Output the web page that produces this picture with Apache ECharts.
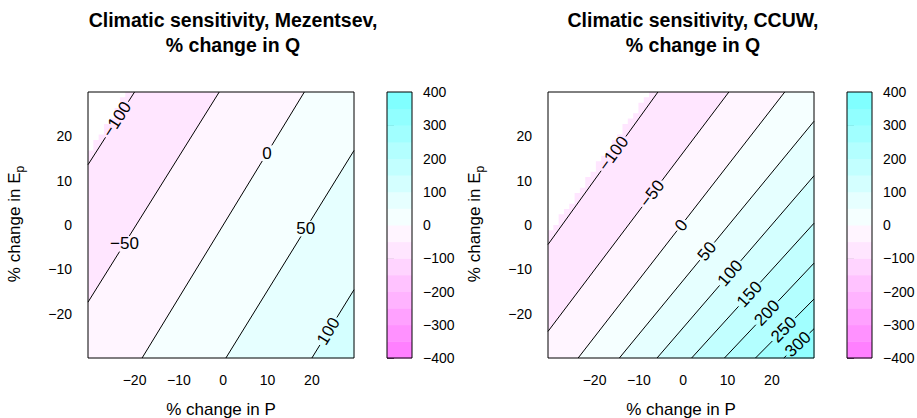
<!DOCTYPE html>
<html><head><meta charset="utf-8">
<script src="https://cdn.jsdelivr.net/npm/echarts@6/dist/echarts.min.js"></script>
<style>html,body{margin:0;padding:0;background:#fff}#c{width:917px;height:418px}</style>
</head><body><div id="c"></div>
<script>
// ================= DATA =================
const panelTitles = ['Climatic sensitivity, Mezentsev,', 'Climatic sensitivity, CCUW,'];
const subTitle = '% change in Q';
const xTitle = '% change in P';
const xTickValues = [-20, -10, 0, 10, 20];
const yTickValues = [-20, -10, 0, 10, 20];
const xRange = [-30.5, 29.5];
const yRange = [-30, 30];
const colorBreaks = [-400,-350,-300,-250,-200,-150,-100,-50,0,50,100,150,200,250,300,350,400];
const binColors = ['#FF80FF','#FF91FF','#FFA1FF','#FFB3FF','#FFC2FF','#FFD4FF','#FFE6FF','#FFF5FF',
                   '#F5FFFF','#E6FFFF','#D4FFFF','#C2FFFF','#B3FFFF','#A1FFFF','#91FFFF','#80FFFF'];
const colorTicks = [-400,-300,-200,-100,0,100,200,300,400];

// Mezentsev: contour levels, line end points (data coords), label anchors
const mezLevels = [-100, -50, 0, 50, 100];
const mezStart  = [[-30.5, 13.6], [-30.5, -17.4], [-18.3, -30], [0.6, -30], [20.0, -30]];
const mezEnd    = [[-20.0, 30], [-0.9, 30], [18.3, 30], [29.5, 16.8], [29.5, -14.6]];
const mezLabelAt = [[-24.6, 24.2], [-22.5, -4.1], [9.4, 16.5], [18.1, -0.5], [22.5, -23.2]];
const mezNaStart = [-30.5, 16.0];
const mezNaEnd   = [-21.6, 30];

// CCUW
const ccuwLevels = [-100, -50, 0, 50, 100, 150, 200, 250, 300];
const ccuwStart  = [[-30.5, -4.4], [-30.5, -24.0], [-23.7, -30], [-14.4, -30], [-5.9, -30], [1.9, -30], [9.3, -30], [16.3, -30], [22.7, -30]];
const ccuwEnd    = [[-5.7, 30], [10.3, 30], [22.9, 30], [29.5, 23.4], [29.5, 11.1], [29.5, 0.4], [29.5, -8.6], [29.5, -16.7], [29.5, -23.4]];
const ccuwLabelAt = [[-16.0, 16.3], [-7.5, 7.4], [-1.2, 0.5], [4.6, -5.3], [9.7, -10.1], [14.0, -14.8], [18.1, -19.1], [21.8, -22.7], [24.9, -25.9]];
const ccuwNaStart = [-30.5, -2.2];
const ccuwNaEnd   = [-7.6, 30];

// ================= PRESENTATION =================
const FONT = '"Liberation Sans", Arial, Helvetica, sans-serif';
const mezFlat  = [false, true, true, true, false];
const ccuwFlat = [false, false, false, false, false, false, false, false, false];
const NA_CELL = 1.2;
const LABEL_SIZE = 17;

const mctx = document.createElement('canvas').getContext('2d');
function textW(t, size, weight) { mctx.font = (weight || 'normal') + ' ' + size + 'px ' + FONT; return mctx.measureText(t).width; }
const fmt = v => (v < 0 ? '\u2212' + Math.abs(v) : String(v));
const binColorFor = level => binColors[colorBreaks.indexOf(level)];

function clipHalf(poly, a, b, ref) {
  const side = p => (b[0]-a[0])*(p[1]-a[1]) - (b[1]-a[1])*(p[0]-a[0]);
  const sr = Math.sign(side(ref));
  const out = [];
  for (let i = 0; i < poly.length; i++) {
    const p = poly[i], q = poly[(i+1) % poly.length];
    const sp = side(p)*sr, sq = side(q)*sr;
    if (sp >= 0) out.push(p);
    if ((sp >= 0) !== (sq >= 0)) { const t = sp/(sp-sq); out.push([p[0]+t*(q[0]-p[0]), p[1]+t*(q[1]-p[1])]); }
  }
  return out;
}

function naPolygon(P, s, e, cell) {
  const pts = [[xRange[0], yRange[1]]];
  const slope = (e[1]-s[1])/(e[0]-s[0]);
  let x0 = xRange[0];
  while (x0 < xRange[1]) {
    const xc = x0 + cell/2;
    const yb = s[1] + slope*(xc - s[0]);
    let yq = yRange[1] - Math.round((yRange[1]-yb)/cell)*cell;
    if (yq >= yRange[1]) break;
    yq = Math.max(yq, yRange[0]);
    pts.push([x0, yq]); pts.push([Math.min(x0+cell, xRange[1]), yq]);
    x0 += cell;
  }
  pts.push([Math.min(x0, xRange[1]), yRange[1]]);
  return pts.map(P);
}

function fieldSeries(idx, levels, starts, ends, labelAt, flat, naS, naE) {
  return {
    type: 'custom', coordinateSystem: 'cartesian2d', xAxisIndex: 2*idx, yAxisIndex: 2*idx,
    data: [[0, 0]], silent: true, clip: false, z: 2,
    renderItem: (params, api) => {
      const P = p => api.coord(p);
      const rect = [P([xRange[0], yRange[1]]), P([xRange[1], yRange[1]]), P([xRange[1], yRange[0]]), P([xRange[0], yRange[0]])];
      const hi = P([xRange[1], yRange[0]]);
      const ch = [];
      ch.push({type: 'polygon', shape: {points: rect}, style: {fill: binColorFor(levels[0])}});
      for (let k = 1; k < levels.length; k++) {
        const poly = clipHalf(rect, P(starts[k]), P(ends[k]), hi);
        ch.push({type: 'polygon', shape: {points: poly}, style: {fill: binColorFor(levels[k]), stroke: binColorFor(levels[k]), lineWidth: 0.5}});
      }
      ch.push({type: 'polygon', shape: {points: naPolygon(P, naS, naE, NA_CELL)}, style: {fill: '#FFFFFF'}});
      for (let k = 0; k < levels.length; k++) {
        const a = P(starts[k]), b = P(ends[k]), L = P(labelAt[k]);
        const dx = b[0]-a[0], dy = b[1]-a[1], len = Math.hypot(dx, dy);
        const ux = dx/len, uy = dy/len;
        const t = ((L[0]-a[0])*ux + (L[1]-a[1])*uy);
        const C = [a[0]+t*ux, a[1]+t*uy];
        const txt = fmt(levels[k]);
        const w = textW(txt, LABEL_SIZE);
        const ang = Math.atan2(-dy, dx);
        let g;
        if (flat[k]) {
          const h = LABEL_SIZE*0.8;
          g = Math.min((w/2+1)/Math.abs(Math.cos(ang)), (h/2+1)/Math.abs(Math.sin(ang)));
        } else g = w/2 + 2;
        ch.push({type: 'line', shape: {x1: a[0], y1: a[1], x2: C[0]-g*ux, y2: C[1]-g*uy}, style: {stroke: '#000', lineWidth: 1}});
        ch.push({type: 'line', shape: {x1: C[0]+g*ux, y1: C[1]+g*uy, x2: b[0], y2: b[1]}, style: {stroke: '#000', lineWidth: 1}});
        ch.push({type: 'text', x: C[0], y: C[1], rotation: flat[k] ? 0 : ang,
          style: {text: txt, fontSize: LABEL_SIZE, fontFamily: FONT, fill: '#000', align: 'center', verticalAlign: 'middle'}});
      }
      ch.push({type: 'polygon', shape: {points: rect}, style: {fill: 'none', stroke: '#000', lineWidth: 1}});
      return {type: 'group', children: ch};
    }
  };
}

function colorbarSeries(idx) {
  return {
    type: 'custom', coordinateSystem: 'cartesian2d', xAxisIndex: 4+idx, yAxisIndex: 4+idx,
    data: [[0, 0]], silent: true, clip: false,
    renderItem: (params, api) => {
      const ch = [];
      for (let i = 0; i < binColors.length; i++) {
        const p0 = api.coord([0, colorBreaks[i+1]]), p1 = api.coord([1, colorBreaks[i]]);
        ch.push({type: 'rect', shape: {x: p0[0], y: p0[1], width: p1[0]-p0[0], height: p1[1]-p0[1]+0.5}, style: {fill: binColors[i]}});
      }
      const q0 = api.coord([0, colorBreaks[colorBreaks.length-1]]), q1 = api.coord([1, colorBreaks[0]]);
      ch.push({type: 'rect', shape: {x: q0[0], y: q0[1], width: q1[0]-q0[0], height: q1[1]-q0[1]}, style: {fill: 'none', stroke: '#000', lineWidth: 1}});
      return {type: 'group', children: ch};
    }
  };
}

const layouts = [
  {grid: {left: 88, top: 92, width: 266, height: 266}, cb: {left: 387, top: 92, width: 25, height: 266}, titleX: 233, yTitleX: 16},
  {grid: {left: 548, top: 92, width: 266, height: 266}, cb: {left: 847, top: 92, width: 25, height: 266}, titleX: 693, yTitleX: 476}
];

const grids = [], xAxes = [], yAxes = [], graphics = [];
const tickStyle = {color: '#000', width: 1};
layouts.forEach(L => { grids.push(Object.assign({outerBoundsMode: 'none', containLabel: false}, L.grid)); });
layouts.forEach(L => { grids.push(Object.assign({outerBoundsMode: 'none', containLabel: false}, L.cb)); });

layouts.forEach((L, i) => {
  const common = {gridIndex: i, type: 'value', min: xRange[0], max: xRange[1], splitLine: {show: false}, axisLine: {show: false}};
  xAxes.push(Object.assign({}, common, {position: 'bottom',
    axisTick: {show: true, length: 8, customValues: xTickValues, lineStyle: tickStyle},
    axisLabel: {customValues: xTickValues, formatter: fmt, fontSize: 14, fontFamily: FONT, color: '#000', margin: 15}}));
  xAxes.push(Object.assign({}, common, {position: 'top',
    axisTick: {show: true, length: 8, customValues: xTickValues, lineStyle: tickStyle},
    axisLabel: {show: false}}));
  const cy = {gridIndex: i, type: 'value', min: yRange[0], max: yRange[1], splitLine: {show: false}, axisLine: {show: false}};
  yAxes.push(Object.assign({}, cy, {position: 'left',
    axisTick: {show: true, length: 8, customValues: yTickValues, lineStyle: tickStyle},
    axisLabel: {customValues: yTickValues, formatter: fmt, fontSize: 14, fontFamily: FONT, color: '#000', margin: 16}}));
  yAxes.push(Object.assign({}, cy, {position: 'right',
    axisTick: {show: true, length: 8, customValues: yTickValues, lineStyle: tickStyle},
    axisLabel: {show: false}}));
});
layouts.forEach((L, i) => {
  xAxes.push({gridIndex: 2+i, type: 'value', min: 0, max: 1, show: false});
  yAxes.push({gridIndex: 2+i, type: 'value', min: colorTicks[0], max: colorTicks[colorTicks.length-1], interval: colorTicks[1]-colorTicks[0], position: 'right',
    splitLine: {show: false}, axisLine: {show: false},
    axisTick: {show: true, length: 7, lineStyle: tickStyle},
    axisLabel: {formatter: fmt, fontSize: 14, fontFamily: FONT, color: '#000', margin: 11}});
});

layouts.forEach((L, i) => {
  const gx = L.grid.left + L.grid.width/2;
  graphics.push({type: 'text', x: L.titleX, y: 20, style: {text: panelTitles[i], fontSize: 19.5, fontWeight: 'bold', fontFamily: FONT, fill: '#000', align: 'center', verticalAlign: 'middle'}});
  graphics.push({type: 'text', x: L.titleX, y: 44.5, style: {text: subTitle, fontSize: 19.5, fontWeight: 'bold', fontFamily: FONT, fill: '#000', align: 'center', verticalAlign: 'middle'}});
  graphics.push({type: 'text', x: gx, y: 409, style: {text: xTitle, fontSize: 17, fontFamily: FONT, fill: '#000', align: 'center', verticalAlign: 'middle'}});
  graphics.push({type: 'text', x: L.yTitleX, y: 224, rotation: Math.PI/2,
    style: {text: '{a|% change in E}{b|p}', fill: '#000', align: 'center', verticalAlign: 'middle',
      rich: {a: {fontSize: 17, fontFamily: FONT, verticalAlign: 'bottom', padding: [0, 0, 3, 0]},
             b: {fontSize: 12, fontFamily: FONT, verticalAlign: 'bottom'}}}});
});

const chart = echarts.init(document.getElementById('c'), null, {renderer: 'svg'});
chart.setOption({
  animation: false,
  backgroundColor: '#fff',
  grid: grids, xAxis: xAxes, yAxis: yAxes,
  graphic: {elements: graphics},
  series: [
    fieldSeries(0, mezLevels, mezStart, mezEnd, mezLabelAt, mezFlat, mezNaStart, mezNaEnd),
    fieldSeries(1, ccuwLevels, ccuwStart, ccuwEnd, ccuwLabelAt, ccuwFlat, ccuwNaStart, ccuwNaEnd),
    colorbarSeries(0), colorbarSeries(1)
  ]
});
</script></body></html>
